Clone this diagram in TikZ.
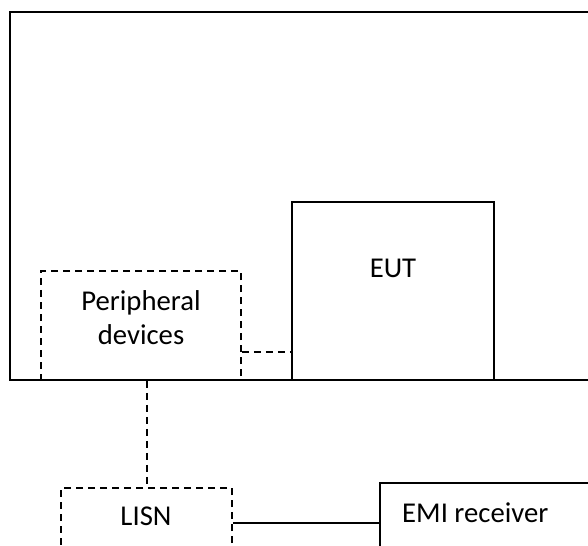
\documentclass[tikz,border=0pt]{standalone}
\usepackage{fontspec}
\setmainfont{Carlito}
\begin{document}
\begin{tikzpicture}[x=1bp,y=-1bp,
  lbl/.style={font=\fontsize{28.7bp}{34bp}\selectfont, inner sep=0pt, text=black},
  solidbox/.style={draw, line width=1.9bp, inner sep=0pt, rectangle},
  dashbox/.style={draw, line width=1.9bp, inner sep=0pt, rectangle, dash pattern=on 7bp off 5bp},
  dsh/.style={line width=1.9bp, dash pattern=on 7bp off 5bp},
  wire/.style={line width=1.9bp}]
\useasboundingbox (0,0) rectangle (588,546);
\clip (0,0) rectangle (588,546);
\fill[white] (0,0) rectangle (588,546);
% table / ground outline
\draw[line width=2.2bp] (620,12) -- (10,12) -- (10,380) -- (620,380);
% boxes
\node[dashbox, minimum width=200bp, minimum height=109bp] (per) at (141,325.5) {};
\node[solidbox, minimum width=202bp, minimum height=178bp] (eut) at (393,291) {};
\node[dashbox, minimum width=171bp, minimum height=112bp] (lisn) at (146.5,544) {};
\node[solidbox, minimum width=270bp, minimum height=117bp] (emi) at (515,541.5) {};
% labels
\node[lbl, anchor=base] (pertxt1) at (141,310) {Peripheral};
\node[lbl, anchor=base] (pertxt2) at (141,344) {devices};
\node[lbl, anchor=base] (euttxt) at (393,277) {EUT};
\node[lbl, anchor=base] (lisntxt) at (146,525) {LISN};
\node[lbl, anchor=base west] (emitxt) at (402,522) {EMI receiver};
% connectors
\draw[dsh] (per.east |- 0,352) -- (eut.west |- 0,352);
\draw[dsh] (per.south -| 147,0) -- (lisn.north -| 147,0);
\draw[wire] (lisn.east |- 0,523) -- (emi.west |- 0,523);
\end{tikzpicture}
\end{document}
